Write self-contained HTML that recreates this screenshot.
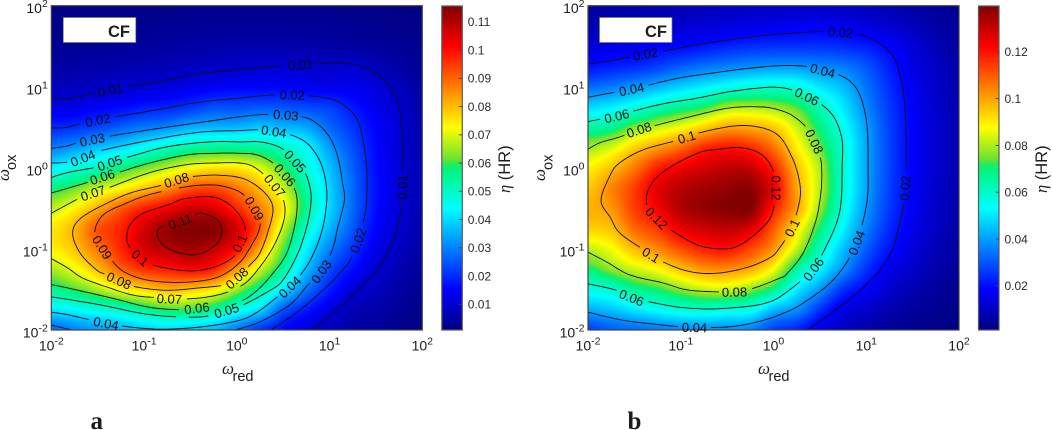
<!DOCTYPE html>
<html lang="en">
<head>
<meta charset="utf-8">
<title>Contour maps of eta over omega-red and omega-ox</title>
<style>
html,body{margin:0;padding:0;background:#fff;}
#figure{position:relative;width:1052px;height:430px;overflow:hidden;background:#fff;font-family:"Liberation Sans",sans-serif;}
canvas{position:absolute;display:block;}
svg{position:absolute;left:0;top:0;}
text{font-family:"Liberation Sans",sans-serif;fill:#1c1c1c;}
</style>
</head>
<body>
<div id="figure">
<canvas id="heat-a" width="371" height="324" style="left:51px;top:6px"></canvas>
<canvas id="heat-b" width="371" height="324" style="left:588px;top:6px"></canvas>
<canvas id="bar-a" width="20" height="324" style="left:442px;top:6px"></canvas>
<canvas id="bar-b" width="20" height="324" style="left:979px;top:6px"></canvas>
<svg id="overlay" width="1052" height="430" viewBox="0 0 1052 430">
  <g id="panel-a">
    <rect x="51.3" y="5.7" width="371" height="324.3" fill="none" stroke="#444" stroke-width="1.2"/>
    <rect x="441.8" y="6" width="20.5" height="324" fill="none" stroke="#5a5a5a" stroke-width="1.2"/>
    <rect x="63.3" y="17.5" width="72.5" height="25" fill="#fff" stroke="#777" stroke-width="0.7"/>
    <text x="108" y="37" font-size="16.5" font-weight="bold" fill="#111">CF</text>
    <text x="222" y="374" font-size="17" style="font-family:'Liberation Serif',serif;font-style:italic">ω</text>
    <text x="232.5" y="381" font-size="14.5">red</text>
    <text transform="translate(9,181) rotate(-90)" font-size="17" style="font-family:'Liberation Serif',serif;font-style:italic">ω</text>
    <text transform="translate(16,170) rotate(-90)" font-size="14.5">ox</text>
    <text transform="translate(510,193) rotate(-90)" font-size="16.5"><tspan style="font-family:'Liberation Serif',serif;font-style:italic">η</tspan> (HR)</text>
    <text x="90.5" y="429" font-size="25" font-weight="bold" fill="#000" style="font-family:'Liberation Serif',serif">a</text>
  </g>
  <g id="panel-b">
    <rect x="588" y="5.7" width="371" height="324.3" fill="none" stroke="#444" stroke-width="1.2"/>
    <rect x="978.5" y="6" width="20.5" height="324" fill="none" stroke="#5a5a5a" stroke-width="1.2"/>
    <rect x="599.5" y="17.5" width="72.5" height="25" fill="#fff" stroke="#777" stroke-width="0.7"/>
    <text x="645" y="37" font-size="16.5" font-weight="bold" fill="#111">CF</text>
    <text x="758" y="374" font-size="17" style="font-family:'Liberation Serif',serif;font-style:italic">ω</text>
    <text x="768.5" y="381" font-size="14.5">red</text>
    <text transform="translate(545,181) rotate(-90)" font-size="17" style="font-family:'Liberation Serif',serif;font-style:italic">ω</text>
    <text transform="translate(552.5,170) rotate(-90)" font-size="14.5">ox</text>
    <text transform="translate(1047,193) rotate(-90)" font-size="16.5"><tspan style="font-family:'Liberation Serif',serif;font-style:italic">η</tspan> (HR)</text>
    <text x="627.5" y="429" font-size="25" font-weight="bold" fill="#000" style="font-family:'Liberation Serif',serif">b</text>
  </g>
</svg>
</div>
<script>
// Axis ticks: decade exponents
const redTicks = [-2, -1, 0, 1, 2];
const oxTicks = [-2, -1, 0, 1, 2];

// Grid axes of the value tables, log10(omega)
const gridRed = [-2,-1.75,-1.5,-1.25,-1,-0.75,-0.5,-0.25,0,0.25,0.5,0.75,1,1.25,1.5,1.75,2];
const gridOx = [2,1.75,1.5,1.25,1,0.75,0.5,0.25,0,-0.25,-0.5,-0.75,-1,-1.25,-1.5,-1.75,-2];

// Colour scale: fraction of range -> rgb
const cmapStops = [
 [0,0,0,130],[0.125,0,0,255],[0.375,0,255,255],[0.49,0,245,130],[0.512,30,238,95],[0.525,105,226,50],
 [0.625,255,255,0],[0.875,255,0,0],[1,130,0,0]
];

// Panel a: eta x 1000, one inner array per gridRed column, entries follow gridOx
const etaA = [
 [1.5,2,3,5,7.5,12,19.5,29.5,43,57,67.5,75,74,66,55.5,41.5,27],
 [1.6,2.1,3.2,5,7.7,12.5,20.5,32.5,47,61.5,73.5,81,79,71.5,60,44,30],
 [1.7,2.3,3.5,5.5,8.5,14.5,23,37,51,68,82,92,88,80,66,47,33],
 [1.8,2.5,3.8,6,9.5,16,26,40,57,73,91,97.5,97,90,73,50,36],
 [1.9,2.7,4.2,6.5,10.5,18,29,45,62,79,98,106,106,96,77,55,38],
 [2,2.9,4.5,7,11.5,19,31,50,67,85,102.5,113,109.5,98.5,81,59,40],
 [2.2,3.2,5,8,13,21,35,53.5,72.5,92,107,115,112,101,79,59,38],
 [2.4,3.4,5.5,8.5,14,24,36,55,75,93,105.5,115,108,98,75,55,36],
 [2.5,3.6,5.7,9,15,24,36,55,75,88,97,106,100,84,65,47,29],
 [2.5,3.6,5.8,9.8,15,25,38,54,70,80,87,91,82,69,54,40,21],
 [2.5,3.6,5.7,10,15,24.5,36,50,60,68.5,74.5,68,61,54,42,25,16],
 [2.4,3.5,5.5,9.7,14,23,34,44,48,53,55,49.5,43,37,28.5,18,10.5],
 [2.2,3.3,5,9,13,22,27,33,37,39,39.5,36,30,24,18.5,12,7.5],
 [1.9,2.8,4.5,10,13,17.5,21,24,26,27,27,25,21,16.5,11,7,5],
 [1.7,2.4,3.8,7,11,13,15,16,16.5,17,16.5,15,13,10,8,5.5,3.7],
 [1.4,2,3.2,5,7.5,9.5,10.5,10.8,11,11,10.8,10,8,6.5,5,3.5,2.5],
 [1.1,1.6,2.4,3.5,4.5,5.5,6,6.3,6.5,6.5,6.3,5.7,4.8,3.8,2.8,2,1.2]
];

// Panel b: eta x 1000, same layout
const etaB = [
 [5,8,13.5,20.5,33,48,64.5,79,89,95,98,94,82,70,57,42,27],
 [6,9,15,22.5,35,51,67,84,96,104,102,96,87,77,59,45,31],
 [6.5,10,16,24,39,56,76,94,106,114,114,108,97,83,67,50,33],
 [7,11,18.5,27,43,62,82,101,118,126,123,115,104,88,71,54,35],
 [8,12,19,31,47,67,87,108,124,132,133,125,112,96,77,58,37],
 [9,13,21,34,51,71,94,117,128,135,137,129,118,102,82,59,38],
 [9.5,14,23,36,55,79,100,120,131,137,139,131,120,103,83,57,38],
 [10,15,24.5,38,58,80,99,117,130,138,139.5,127,113,99,77,56,36],
 [10.5,16,25,39,59,78,95,107,118,125,119,110,102,87,68,44,27],
 [10.5,17,25,39,57,73,83,90,97,100,100.5,91,82,65,51,38,23],
 [10.5,17,25,37,50,62,69,75,80,81,78,70,62,52,39,25,15],
 [10,16,24,35,44,50,55,58.5,59,59,57,52,45,38,25,15,10],
 [9,14,22,30,34,37,40,41,41,41,39,36,31,25,18,11,7],
 [7.5,12,18,22,24.5,26,27,27.5,27.5,27,26,24,20.5,16,11.5,7.5,4.5],
 [6,9,13,15,16.5,17.5,18,18,18,18,17,15.5,13.5,11,8,5,3],
 [4.5,6.5,8.5,10,11,11.5,12,12,12,11.5,11,10,8.5,7,5,3.5,2.2],
 [3,4.5,5.5,6.5,7,7.5,7.5,7.5,7.5,7.2,7,6,5.2,4.2,3,2,1.3]
];

// Colour scale ranges and colorbar ticks
const rangeA = [0.0009, 0.1157];
const rangeB = [0.0011, 0.1397];
const barTicksA = [0.01,0.02,0.03,0.04,0.05,0.06,0.07,0.08,0.09,0.1,0.11];
const barTicksB = [0.02,0.04,0.06,0.08,0.1,0.12];

// Panel a iso-lines: [level, closed?, points as [log10 omega_red, log10 omega_ox]]
const contoursA = [
 [0.01,false,[[-2,.84],[-1.72,.87],[-1.53,.92],[-1.17,1],[-.75,1.08],[-.4,1.16],[.03,1.21],[.54,1.26],[.9,1.29],[1.25,1.28],[1.47,1.18],[1.62,1.05],[1.73,.84],[1.78,.5],[1.79,-.03],[1.78,-.4],[1.76,-.61],[1.7,-.85],[1.62,-1.05],[1.51,-1.26],[1.36,-1.44],[1.11,-1.72],[.8,-2]]],
 [0.02,false,[[-2,.49],[-1.83,.5],[-1.66,.55],[-1.31,.63],[-.94,.7],[-.4,.81],[.03,.86],[.41,.9],[.77,.89],[1.04,.84],[1.19,.74],[1.3,.59],[1.36,.34],[1.4,.01],[1.4,-.4],[1.36,-.68],[1.24,-1.1],[1.11,-1.3],[.9,-1.54],[.65,-1.78],[.37,-2]]],
 [0.03,false,[[-2,.24],[-1.83,.27],[-1.71,.31],[-1.37,.39],[-.94,.47],[-.58,.53],[-.21,.59],[.03,.63],[.34,.66],[.7,.63],[.86,.55],[1,.38],[1.09,.13],[1.14,-.19],[1.16,-.4],[1.09,-.73],[1.03,-1.01],[.91,-1.28],[.77,-1.44],[.57,-1.69],[.25,-1.9],[-.02,-2]]],
 [0.03,false,[[-2,-1.94],[-1.78,-2]]],
 [0.04,false,[[-2,.06],[-1.83,.07],[-1.66,.12],[-1.51,.2],[-.94,.34],[-.4,.44],[.03,.46],[.23,.47],[.4,.45],[.6,.4],[.76,.3],[.88,.12],[.95,-.11],[.97,-.4],[.92,-.77],[.81,-1.1],[.7,-1.3],[.57,-1.47],[.44,-1.59],[.22,-1.78],[.03,-1.88],[-.37,-1.96],[-.83,-1.99],[-1.24,-1.95],[-1.56,-1.88],[-1.83,-1.81],[-2,-1.78]]],
 [0.05,false,[[-2,-.12],[-1.83,-.06],[-1.51,.01],[-1.37,.06],[-1.18,.13],[-.75,.26],[-.29,.32],[.03,.32],[.25,.32],[.43,.27],[.53,.2],[.63,.08],[.74,-.07],[.79,-.25],[.8,-.42],[.76,-.7],[.66,-1.05],[.5,-1.38],[.36,-1.51],[.07,-1.69],[-.11,-1.76],[-.4,-1.84],[-.94,-1.81],[-1.47,-1.69],[-2,-1.59]]],
 [0.06,false,[[-2,-.31],[-1.64,-.19],[-1.45,-.11],[-1.26,-.05],[-.94,.06],[-.54,.16],[-.23,.18],[.03,.18],[.22,.16],[.39,.06],[.52,-.09],[.61,-.23],[.65,-.4],[.63,-.68],[.54,-1.05],[.39,-1.3],[.22,-1.51],[.03,-1.65],[-.27,-1.71],[-.43,-1.73],[-.59,-1.75],[-.94,-1.72],[-1.37,-1.6],[-1.83,-1.48],[-2,-1.44]]],
 [0.07,false,[[-2,-.56],[-1.69,-.37],[-1.55,-.31],[-1.37,-.24],[-.94,-.06],[-.54,.04],[-.23,.06],[.03,.06],[.17,.02],[.3,-.09],[.41,-.22],[.49,-.36],[.52,-.52],[.49,-.72],[.39,-.98],[.25,-1.22],[.07,-1.44],[-.21,-1.57],[-.58,-1.62],[-.86,-1.6],[-1.12,-1.57],[-1.4,-1.47],[-1.66,-1.36],[-1.83,-1.23],[-2,-1.12]]],
 [0.08,true,[[-1.77,-.8],[-1.67,-.61],[-1.335,-.4],[-1.12,-.3],[-.94,-.25],[-.8,-.21],[-.65,-.15],[-.5,-.11],[-.23,-.09],[.03,-.12],[.2,-.21],[.34,-.36],[.39,-.52],[.34,-.77],[.25,-1.05],[.14,-1.2],[0,-1.36],[-.11,-1.44],[-.4,-1.48],[-.75,-1.51],[-1.08,-1.47],[-1.27,-1.39],[-1.4,-1.32],[-1.51,-1.26],[-1.69,-1.05]]],
 [0.09,true,[[-1.53,-.79],[-1.44,-.58],[-1.18,-.43],[-.94,-.33],[-.58,-.24],[-.26,-.21],[-.02,-.27],[.11,-.37],[.2,-.52],[.25,-.67],[.23,-.8],[.17,-.93],[.03,-1.17],[-.21,-1.35],[-.54,-1.41],[-.94,-1.39],[-1.22,-1.28],[-1.37,-1.11],[-1.45,-.98]]],
 [0.1,true,[[-1.18,-.79],[-1.13,-.67],[-1.01,-.56],[-.75,-.46],[-.56,-.38],[-.26,-.36],[-.07,-.46],[.06,-.64],[.09,-.8],[.03,-.93],[-.04,-1.1],[-.26,-1.23],[-.54,-1.27],[-.9,-1.2],[-1.04,-1.11],[-1.17,-.95]]],
 [0.11,true,[[-.37,-.56],[-.21,-.64],[-.16,-.77],[-.21,-.93],[-.37,-1.05],[-.54,-1.07],[-.75,-.99],[-.85,-.86],[-.83,-.74],[-.61,-.66],[-.43,-.57]]]
];

// Panel b iso-lines
const contoursB = [
 [0.02,false,[[-2,1.28],[-1.76,1.32],[-1.55,1.37],[-1.19,1.44],[-.82,1.52],[-.47,1.58],[-.11,1.63],[.18,1.66],[.53,1.68],[.9,1.65],[1.12,1.55],[1.28,1.39],[1.36,1.17],[1.41,.84],[1.43,.43],[1.43,.01],[1.42,-.25],[1.4,-.48],[1.34,-.77],[1.28,-1.01],[1.12,-1.3],[.79,-1.65],[.36,-2]]],
 [0.04,false,[[-2,.87],[-1.82,.91],[-1.53,.97],[-1.35,1.02],[-1.01,1.11],[-.65,1.17],[-.33,1.22],[.07,1.26],[.36,1.25],[.53,1.2],[.72,1.14],[.86,1.03],[.95,.84],[1.01,.5],[1.02,.01],[1.01,-.4],[.93,-.8],[.82,-1.11],[.61,-1.42],[.29,-1.69],[.07,-1.81],[-.11,-1.88],[-.39,-1.95],[-.71,-1.97],[-.98,-1.96],[-1.19,-1.94],[-1.62,-1.88],[-2,-1.78]]],
 [0.06,false,[[-2,.57],[-1.87,.6],[-1.69,.64],[-1.51,.7],[-1.19,.79],[-.82,.86],[-.47,.94],[-.11,.99],[.07,.99],[.2,.96],[.36,.88],[.52,.78],[.66,.61],[.74,.34],[.74,.01],[.73,-.4],[.68,-.68],[.55,-1.01],[.43,-1.25],[.31,-1.38],[.07,-1.59],[-.09,-1.67],[-.29,-1.71],[-.65,-1.74],[-1.01,-1.72],[-1.35,-1.65],[-1.53,-1.6],[-1.69,-1.51],[-2,-1.43]]],
 [0.08,false,[[-2,.23],[-1.87,.31],[-1.66,.38],[-1.45,.47],[-1.25,.53],[-.9,.63],[-.47,.74],[-.11,.75],[.07,.71],[.21,.64],[.36,.49],[.45,.3],[.51,.1],[.52,-.15],[.5,-.4],[.45,-.68],[.32,-1.05],[.15,-1.3],[.07,-1.36],[-.23,-1.49],[-.42,-1.53],[-.9,-1.51],[-1.19,-1.42],[-1.55,-1.32],[-1.8,-1.16],[-2,-1.04]]],
 [0.1,true,[[-1.86,-.4],[-1.76,-.09],[-1.66,.06],[-1.41,.22],[-1.04,.34],[-.77,.44],[-.39,.52],[-.11,.49],[.07,.38],[.2,.13],[.27,-.11],[.29,-.33],[.25,-.56],[.2,-.74],[.07,-.98],[-.04,-1.11],[-.29,-1.23],[-.61,-1.3],[-.9,-1.28],[-1.19,-1.16],[-1.44,-.98],[-1.66,-.8],[-1.76,-.61]]],
 [0.12,true,[[-1.35,-.27],[-1.19,-.05],[-.82,.18],[-.58,.23],[-.36,.25],[-.15,.18],[-.02,.01],[.03,-.25],[-.02,-.58],[-.15,-.77],[-.36,-.95],[-.54,-1],[-.82,-.95],[-1.14,-.74],[-1.26,-.62],[-1.36,-.48]]]
];

// Inline contour labels: [level, log10 omega_red, log10 omega_ox]
const labelsA = [
 [0.01,-1.37,.95],[0.01,.7,1.27],[0.01,1.79,-.25],
 [0.02,-1.49,.58],[0.02,.61,.89],[0.02,1.33,-.91],
 [0.03,-1.55,.34],[0.03,.52,.64],[0.03,.91,-1.28],
 [0.04,-1.66,.12],[0.04,.4,.44],[0.04,.57,-1.47],[0.04,-1.42,-1.91],
 [0.05,-1.37,.06],[0.05,.63,.08],[0.05,-.11,-1.76],
 [0.06,-1.45,-.11],[0.06,.52,-.09],[0.06,-.43,-1.73],
 [0.07,-1.55,-.31],[0.07,.41,-.22],[0.07,-.74,-1.62],
 [0.08,-.65,-.15],[0.08,-1.27,-1.39],[0.08,0,-1.36],
 [0.09,-1.45,-.98],[0.09,.17,-.52],
 [0.1,-1.04,-1.11],[0.1,.03,-.93],
 [0.11,-.61,-.66]
];
const labelsB = [
 [0.02,-1.36,1.39],[0.02,.72,1.66],[0.02,1.42,-.25],
 [0.04,-1.53,.97],[0.04,.53,1.19],[0.04,.9,-.93],[0.04,-.85,-1.97],
 [0.06,-1.69,.64],[0.06,.36,.87],[0.06,.43,-1.25],[0.06,-1.53,-1.62],
 [0.08,-1.45,.47],[0.08,.44,.32],[0.08,-.42,-1.53],
 [0.1,-.92,.38],[0.1,.2,-.74],[0.1,-1.33,-1.1],
 [0.12,.03,-.25],[0.12,-1.26,-.62]
];

const SVGNS = 'http://www.w3.org/2000/svg';

function colorAt(f) {
  f = Math.max(0, Math.min(1, f));
  for (let i = 1; i < cmapStops.length; i++) {
    const a = cmapStops[i - 1], b = cmapStops[i];
    if (f <= b[0]) {
      const t = (f - a[0]) / (b[0] - a[0]);
      return [a[1] + (b[1] - a[1]) * t, a[2] + (b[2] - a[2]) * t, a[3] + (b[3] - a[3]) * t];
    }
  }
  return [130, 0, 0];
}

function cubic(p0, p1, p2, p3, t) {
  return p1 + 0.5 * t * (p2 - p0 + t * (2 * p0 - 5 * p1 + 4 * p2 - p3 + t * (3 * (p1 - p2) + p3 - p0)));
}

function sampleGrid(table, cx, ry) {
  const n = table.length - 1, m = table[0].length - 1;
  const c = Math.min(n - 1, Math.floor(cx)), r = Math.min(m - 1, Math.floor(ry));
  const tc = cx - c, tr = ry - r, rows = [];
  for (let k = -1; k <= 2; k++) {
    const col = table[Math.max(0, Math.min(n, c + k))];
    rows.push(cubic(col[Math.max(0, r - 1)], col[r], col[r + 1], col[Math.min(m, r + 2)], tr));
  }
  return cubic(rows[0], rows[1], rows[2], rows[3], tc);
}

function drawHeat(canvasId, table, range, xInv, yInv) {
  const cv = document.getElementById(canvasId), ctx = cv.getContext('2d');
  const img = ctx.createImageData(cv.width, cv.height);
  const stepRed = gridRed[1] - gridRed[0], stepOx = gridOx[0] - gridOx[1];
  for (let py = 0; py < cv.height; py++) {
    for (let px = 0; px < cv.width; px++) {
      const cx = (xInv(px + 0.5) - gridRed[0]) / stepRed;
      const ry = (gridOx[0] - yInv(py + 0.5)) / stepOx;
      const v = sampleGrid(table, Math.max(0, Math.min(gridRed.length - 1, cx)), Math.max(0, Math.min(gridOx.length - 1, ry))) / 1000;
      const rgb = colorAt((v - range[0]) / (range[1] - range[0]));
      const i = (py * cv.width + px) * 4;
      img.data[i] = rgb[0];
      img.data[i + 1] = rgb[1];
      img.data[i + 2] = rgb[2];
      img.data[i + 3] = 255;
    }
  }
  ctx.putImageData(img, 0, 0);
}

function drawBar(canvasId) {
  const cv = document.getElementById(canvasId), ctx = cv.getContext('2d');
  for (let py = 0; py < cv.height; py++) {
    const rgb = colorAt(1 - (py + 0.5) / cv.height);
    ctx.fillStyle = 'rgb(' + rgb.map(Math.round).join(',') + ')';
    ctx.fillRect(0, py, cv.width, 1);
  }
}

function smoothLine(points, closed, xPos, yPos) {
  const p = points.map(function (q) { return [xPos(q[0]), yPos(q[1])]; });
  const n = p.length, out = [], segs = closed ? n : n - 1;
  const at = function (i) { return closed ? p[(i + n) % n] : p[Math.max(0, Math.min(n - 1, i))]; };
  for (let i = 0; i < segs; i++) {
    for (let s = 0; s < 8; s++) {
      const t = s / 8;
      out.push([cubic(at(i - 1)[0], at(i)[0], at(i + 1)[0], at(i + 2)[0], t),
                cubic(at(i - 1)[1], at(i)[1], at(i + 1)[1], at(i + 2)[1], t)]);
    }
  }
  out.push(closed ? out[0] : p[n - 1]);
  return out;
}

function drawPanel(groupId, suffix, geom, contours, labels, barTicks, range) {
  const group = document.getElementById(groupId);
  const xPos = function (l) { return geom.left + (l + 2) / 4 * geom.width; };
  const yPos = function (l) { return geom.top + (2 - l) / 4 * geom.height; };
  const barY = function (v) { return geom.top + (1 - (v - range[0]) / (range[1] - range[0])) * geom.height; };

  const lines = contours.map(function (c) {
    return { level: c[0], pts: smoothLine(c[2], c[1], xPos, yPos) };
  });

  // place every label on the nearest point of its iso-line and take the line's direction
  const placed = labels.map(function (lab) {
    const tx = xPos(lab[1]), ty = yPos(lab[2]);
    let best = null, bestD = Infinity;
    lines.forEach(function (ln) {
      if (ln.level !== lab[0]) return;
      ln.pts.forEach(function (q, i) {
        const d = (q[0] - tx) * (q[0] - tx) + (q[1] - ty) * (q[1] - ty);
        if (d < bestD) { bestD = d; best = { ln: ln, i: i }; }
      });
    });
    const a = best.ln.pts[Math.max(0, best.i - 6)], b = best.ln.pts[Math.min(best.ln.pts.length - 1, best.i + 6)];
    let ang = Math.atan2(b[1] - a[1], b[0] - a[0]);
    if (ang > Math.PI / 2 + 0.001) ang -= Math.PI;
    if (ang < -Math.PI / 2 - 0.001) ang += Math.PI;
    const q = best.ln.pts[best.i];
    return { x: q[0], y: q[1], ang: ang, text: String(lab[0]) };
  });

  lines.forEach(function (ln) {
    let d = '', pen = false;
    ln.pts.forEach(function (q) {
      const hidden = placed.some(function (lb) {
        const dx = q[0] - lb.x, dy = q[1] - lb.y;
        const u = dx * Math.cos(lb.ang) + dy * Math.sin(lb.ang);
        const v = -dx * Math.sin(lb.ang) + dy * Math.cos(lb.ang);
        return Math.abs(u) < lb.text.length * 3.1 + 3 && Math.abs(v) < 8;
      });
      if (hidden) { pen = false; return; }
      d += (pen ? 'L' : 'M') + q[0].toFixed(1) + ' ' + q[1].toFixed(1);
      pen = true;
    });
    const path = document.createElementNS(SVGNS, 'path');
    path.setAttribute('d', d);
    path.setAttribute('fill', 'none');
    path.setAttribute('stroke', '#101010');
    path.setAttribute('stroke-width', '0.9');
    
    
    group.insertBefore(path, group.firstChild);
  });

  placed.forEach(function (lb) {
    const t = document.createElementNS(SVGNS, 'text');
    t.textContent = lb.text;
    t.setAttribute('transform', 'translate(' + lb.x.toFixed(1) + ',' + lb.y.toFixed(1) + ') rotate(' + (lb.ang * 180 / Math.PI).toFixed(1) + ')');
    t.setAttribute('text-anchor', 'middle');
    t.setAttribute('dy', '0.36em');
    t.setAttribute('font-size', '13');
    t.setAttribute('style', 'fill:#0a0a0a');
    
    
    group.appendChild(t);
  });

  redTicks.forEach(function (v) {
    const t = document.createElementNS(SVGNS, 'text');
    t.setAttribute('x', xPos(v).toFixed(1));
    t.setAttribute('y', '350.5');
    t.setAttribute('text-anchor', 'middle');
    t.setAttribute('font-size', '14');
    
    
    t.textContent = '10';
    const sup = document.createElementNS(SVGNS, 'tspan');
    sup.setAttribute('dy', '-6');
    sup.setAttribute('font-size', '10.5');
    sup.textContent = String(v);
    t.appendChild(sup);
    group.appendChild(t);
  });

  oxTicks.forEach(function (v) {
    const t = document.createElementNS(SVGNS, 'text');
    t.setAttribute('x', (geom.left - 3.5).toFixed(1));
    t.setAttribute('y', (yPos(v) + 7.5).toFixed(1));
    t.setAttribute('text-anchor', 'end');
    t.setAttribute('font-size', '14');
    
    
    t.textContent = '10';
    const sup = document.createElementNS(SVGNS, 'tspan');
    sup.setAttribute('dy', '-6');
    sup.setAttribute('font-size', '10.5');
    sup.textContent = String(v);
    t.appendChild(sup);
    group.appendChild(t);
  });

  barTicks.forEach(function (v) {
    const y = barY(v);
    const tick = document.createElementNS(SVGNS, 'line');
    tick.setAttribute('x1', (geom.barLeft + 17).toFixed(1));
    tick.setAttribute('x2', (geom.barLeft + 20.5).toFixed(1));
    tick.setAttribute('y1', y.toFixed(1));
    tick.setAttribute('y2', y.toFixed(1));
    tick.setAttribute('stroke', '#444');
    tick.setAttribute('stroke-width', '0.9');
    
    
    group.appendChild(tick);
    const t = document.createElementNS(SVGNS, 'text');
    t.setAttribute('x', (geom.barLeft + 26).toFixed(1));
    t.setAttribute('y', (y + 4.4).toFixed(1));
    t.setAttribute('font-size', '12');
    t.setAttribute('style', 'fill:#2a2a2a');
    
    
    t.textContent = String(v);
    group.appendChild(t);
  });

  return {
    xInv: function (px) { return (px + Math.round(geom.left) - geom.left) / geom.width * 4 - 2; },
    yInv: function (py) { return 2 - (py + Math.round(geom.top) - geom.top) / geom.height * 4; }
  };
}

const geomA = { left: 51.3, width: 371, top: 5.7, height: 324.3, barLeft: 441.8 };
const geomB = { left: 588, width: 371, top: 5.7, height: 324.3, barLeft: 978.5 };

const invA = drawPanel('panel-a', 'a', geomA, contoursA, labelsA, barTicksA, rangeA);
const invB = drawPanel('panel-b', 'b', geomB, contoursB, labelsB, barTicksB, rangeB);
drawHeat('heat-a', etaA, rangeA, invA.xInv, invA.yInv);
drawHeat('heat-b', etaB, rangeB, invB.xInv, invB.yInv);
drawBar('bar-a');
drawBar('bar-b');
</script>
</body>
</html>
